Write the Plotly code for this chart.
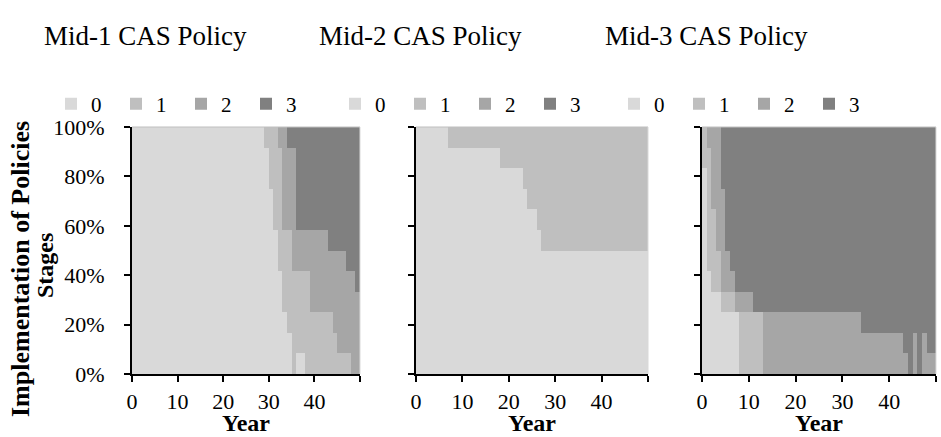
import plotly.graph_objects as go

# Number of policies (out of 12) at each implementation stage, years 0-49
years = list(range(50))
stage_names = ["0", "1", "2", "3"]
stage_colors = ["#d9d9d9", "#bfbfbf", "#a6a6a6", "#808080"]
panel_titles = ["Mid-1 CAS Policy", "Mid-2 CAS Policy", "Mid-3 CAS Policy"]
x_tick_vals = [0, 10, 20, 30, 40, 50]
x_tick_text = ["0", "10", "20", "30", "40", ""]
y_tick_vals = [0, 20, 40, 60, 80, 100]
y_tick_text = ["0%", "20%", "40%", "60%", "80%", "100%"]

mid1_stage0 = [12, 12, 12, 12, 12, 12, 12, 12, 12, 12,
               12, 12, 12, 12, 12, 12, 12, 12, 12, 12,
               12, 12, 12, 12, 12, 12, 12, 12, 12, 11,
               9, 7, 5, 3, 2, 0, 1, 1, 0, 0,
               0, 0, 0, 0, 0, 0, 0, 0, 0, 0]
mid1_stage1 = [0, 0, 0, 0, 0, 0, 0, 0, 0, 0,
               0, 0, 0, 0, 0, 0, 0, 0, 0, 0,
               0, 0, 0, 0, 0, 0, 0, 0, 0, 1,
               3, 5, 6, 4, 5, 5, 4, 4, 5, 3,
               3, 3, 3, 3, 2, 1, 1, 1, 0, 0]
mid1_stage2 = [0, 0, 0, 0, 0, 0, 0, 0, 0, 0,
               0, 0, 0, 0, 0, 0, 0, 0, 0, 0,
               0, 0, 0, 0, 0, 0, 0, 0, 0, 0,
               0, 0, 1, 5, 4, 6, 2, 2, 2, 4,
               4, 4, 4, 3, 4, 5, 5, 4, 5, 4]
mid1_stage3 = [0, 0, 0, 0, 0, 0, 0, 0, 0, 0,
               0, 0, 0, 0, 0, 0, 0, 0, 0, 0,
               0, 0, 0, 0, 0, 0, 0, 0, 0, 0,
               0, 0, 0, 0, 1, 1, 5, 5, 5, 5,
               5, 5, 5, 6, 6, 6, 6, 7, 7, 8]

mid2_stage0 = [12, 12, 12, 12, 12, 12, 12, 11, 11, 11,
               11, 11, 11, 11, 11, 11, 11, 11, 10, 10,
               10, 10, 10, 9, 8, 8, 7, 6, 6, 6,
               6, 6, 6, 6, 6, 6, 6, 6, 6, 6,
               6, 6, 6, 6, 6, 6, 6, 6, 6, 6]
mid2_stage1 = [0, 0, 0, 0, 0, 0, 0, 1, 1, 1,
               1, 1, 1, 1, 1, 1, 1, 1, 2, 2,
               2, 2, 2, 3, 4, 4, 5, 6, 6, 6,
               6, 6, 6, 6, 6, 6, 6, 6, 6, 6,
               6, 6, 6, 6, 6, 6, 6, 6, 6, 6]
mid2_stage2 = [0, 0, 0, 0, 0, 0, 0, 0, 0, 0,
               0, 0, 0, 0, 0, 0, 0, 0, 0, 0,
               0, 0, 0, 0, 0, 0, 0, 0, 0, 0,
               0, 0, 0, 0, 0, 0, 0, 0, 0, 0,
               0, 0, 0, 0, 0, 0, 0, 0, 0, 0]
mid2_stage3 = [0, 0, 0, 0, 0, 0, 0, 0, 0, 0,
               0, 0, 0, 0, 0, 0, 0, 0, 0, 0,
               0, 0, 0, 0, 0, 0, 0, 0, 0, 0,
               0, 0, 0, 0, 0, 0, 0, 0, 0, 0,
               0, 0, 0, 0, 0, 0, 0, 0, 0, 0]

mid3_stage0 = [10, 5, 4, 4, 3, 3, 3, 3, 0, 0,
               0, 0, 0, 0, 0, 0, 0, 0, 0, 0,
               0, 0, 0, 0, 0, 0, 0, 0, 0, 0,
               0, 0, 0, 0, 0, 0, 0, 0, 0, 0,
               0, 0, 0, 0, 0, 0, 0, 0, 0, 0]
mid3_stage1 = [2, 6, 4, 2, 1, 1, 1, 0, 3, 3,
               3, 3, 3, 0, 0, 0, 0, 0, 0, 0,
               0, 0, 0, 0, 0, 0, 0, 0, 0, 0,
               0, 0, 0, 0, 0, 0, 0, 0, 0, 0,
               0, 0, 0, 0, 0, 0, 0, 0, 0, 0]
mid3_stage2 = [0, 1, 4, 6, 5, 2, 1, 1, 1, 1,
               1, 0, 0, 3, 3, 3, 3, 3, 3, 3,
               3, 3, 3, 3, 3, 3, 3, 3, 3, 3,
               3, 3, 3, 3, 2, 2, 2, 2, 2, 2,
               2, 2, 2, 1, 0, 2, 0, 2, 1, 1]
mid3_stage3 = [0, 0, 0, 0, 3, 6, 7, 8, 8, 8,
               8, 9, 9, 9, 9, 9, 9, 9, 9, 9,
               9, 9, 9, 9, 9, 9, 9, 9, 9, 9,
               9, 9, 9, 9, 10, 10, 10, 10, 10, 10,
               10, 10, 10, 11, 12, 10, 12, 10, 11, 11]

panel_series = [
    [mid1_stage0, mid1_stage1, mid1_stage2, mid1_stage3],
    [mid2_stage0, mid2_stage1, mid2_stage2, mid2_stage3],
    [mid3_stage0, mid3_stage1, mid3_stage2, mid3_stage3],
]

W, H = 941, 437
SERIF = "Liberation Serif, Times New Roman, serif"

# Pixel layout of the three plot areas
plot_x_px = [(132, 360), (416, 648), (702, 936)]
plot_top_px, plot_bottom_px = 127, 374
title_center_px = [145, 420, 706]
title_mid_px = 36
legend_left_px = [51, 335, 614]
legend_mid_px = 104


def px_x(v):
    return v / W


def px_y(v):
    return 1 - v / H


fig = go.Figure()

for p, series in enumerate(panel_series):
    suffix = "" if p == 0 else str(p + 1)
    for name, vals, color in zip(stage_names, series, stage_colors):
        fig.add_trace(go.Bar(
            x=years, y=vals, name=name,
            offset=0, width=1,
            marker=dict(color=color, line=dict(width=0)),
            xaxis="x" + suffix, yaxis="y" + suffix,
            legend="legend" + suffix,
            hovertemplate="Year %{x}<br>Stage " + name + ": %{y:.1f}%<extra></extra>",
        ))

layout = dict(
    width=W, height=H,
    margin=dict(l=0, r=0, t=0, b=0, autoexpand=False),
    paper_bgcolor="white", plot_bgcolor="white",
    barmode="stack", barnorm="percent", bargap=0,
    font=dict(family=SERIF, size=22, color="black"),
    showlegend=True,
)

annotations = []
shapes = []
for p, (x0, x1) in enumerate(plot_x_px):
    suffix = "" if p == 0 else str(p + 1)
    layout["xaxis" + suffix] = dict(
        domain=[px_x(x0), px_x(x1)], anchor="y" + suffix,
        range=[0, 50], tickmode="array",
        tickvals=x_tick_vals, ticktext=x_tick_text,
        ticks="outside", ticklen=6, tickwidth=2, tickcolor="black",
        showline=True, linecolor="black", linewidth=2,
        showgrid=False, zeroline=False, fixedrange=True,
        tickfont=dict(family=SERIF, size=22, color="black"),
        ticklabelstandoff=1,
    )
    layout["yaxis" + suffix] = dict(
        domain=[px_y(plot_bottom_px), px_y(plot_top_px)], anchor="x" + suffix,
        range=[0, 100], tickmode="array",
        tickvals=y_tick_vals, ticktext=y_tick_text,
        showticklabels=(p == 0),
        ticks="outside", ticklen=6, tickwidth=2, tickcolor="black",
        showline=True, linecolor="black", linewidth=2,
        showgrid=False, zeroline=False, fixedrange=True,
        tickfont=dict(family=SERIF, size=22, color="black"),
        ticklabelstandoff=15,
    )
    layout["legend" + suffix] = dict(
        orientation="h", x=px_x(legend_left_px[p]), xanchor="left",
        y=px_y(legend_mid_px), yanchor="middle",
        traceorder="normal", entrywidth=20, entrywidthmode="pixels",
        bgcolor="rgba(0,0,0,0)", borderwidth=0,
        font=dict(family=SERIF, size=21, color="black"),
        itemclick=False, itemdoubleclick=False,
    )
    annotations.append(dict(
        text=panel_titles[p], xref="paper", yref="paper",
        x=px_x(title_center_px[p]), y=px_y(title_mid_px),
        xanchor="center", yanchor="middle", showarrow=False,
        font=dict(family=SERIF, size=27, color="black"),
    ))
    # x-axis title sits on the bottom edge of the figure
    annotations.append(dict(
        text="<b>Year</b>", xref="x" + suffix + " domain", yref="paper",
        x=0.5, y=0, xanchor="center", yanchor="bottom", showarrow=False,
        borderpad=0,
        font=dict(family=SERIF, size=24, color="black"),
    ))
    # light border along the top and right of each plot area
    shapes.append(dict(type="line", xref="x" + suffix + " domain", yref="y" + suffix + " domain",
                       x0=0, x1=1, y0=1, y1=1, line=dict(color="#bfbfbf", width=1), layer="above"))
    shapes.append(dict(type="line", xref="x" + suffix + " domain", yref="y" + suffix + " domain",
                       x0=1, x1=1, y0=0, y1=1, line=dict(color="#d9d9d9", width=1), layer="above"))

annotations.append(dict(
    text="<b>Implementation of Policies</b>", xref="paper", yref="paper",
    x=px_x(20), y=px_y(269), xanchor="center", yanchor="middle",
    textangle=-90, showarrow=False,
    font=dict(family=SERIF, size=26, color="black"),
))
annotations.append(dict(
    text="<b>Stages</b>", xref="paper", yref="paper",
    x=px_x(45), y=px_y(266), xanchor="center", yanchor="middle",
    textangle=-90, showarrow=False,
    font=dict(family=SERIF, size=24, color="black"),
))

layout["annotations"] = annotations
layout["shapes"] = shapes
fig.update_layout(**layout)

fig.write_html("out.html")
